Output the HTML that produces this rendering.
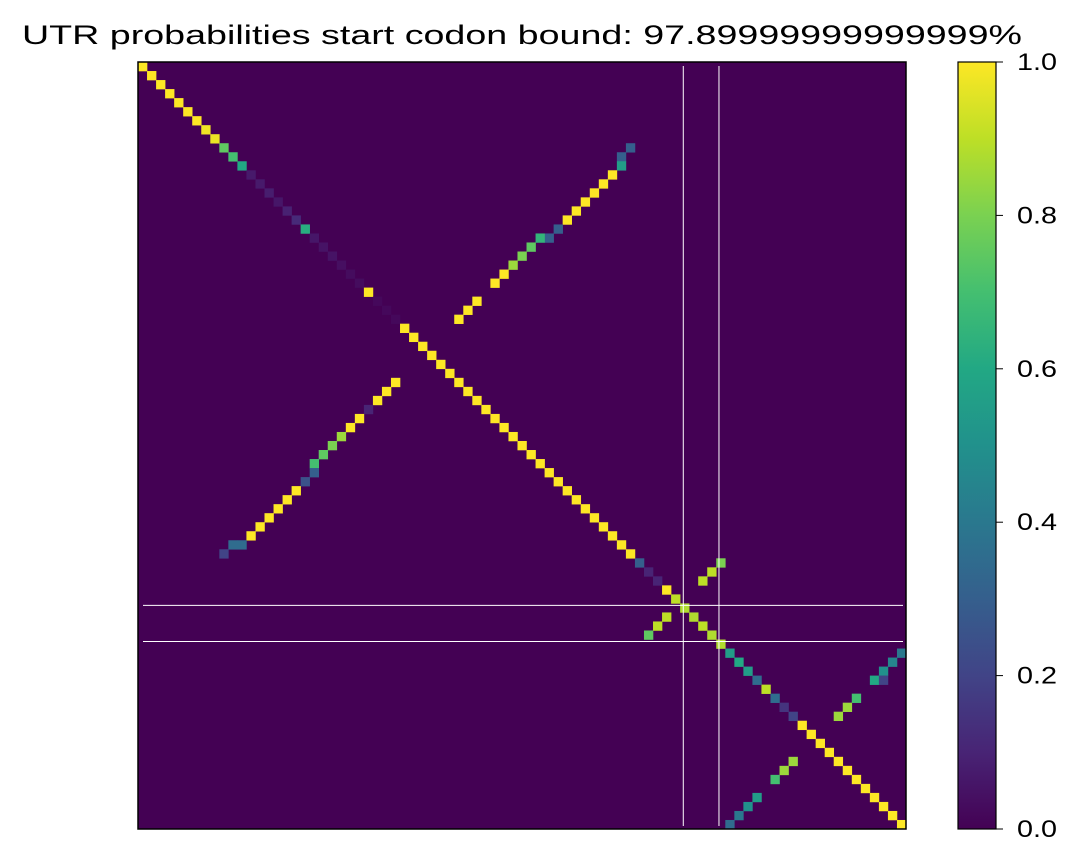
<!DOCTYPE html>
<html><head><meta charset="utf-8"><style>
body{margin:0;background:#fff;}
svg{display:block;font-family:"Liberation Sans",sans-serif;}
</style></head><body>
<svg id="chart" width="1079" height="867">
<text x="522" y="44" font-size="27" textLength="1000" lengthAdjust="spacingAndGlyphs" text-anchor="middle">UTR probabilities start codon bound: 97.89999999999999%</text>
<g id="cells"></g>
<g id="lines"></g>
<rect x="138" y="62" width="768" height="767" fill="none" stroke="#000" stroke-width="1.5"/>
<defs><linearGradient id="vg" x1="0" y1="1" x2="0" y2="0"></linearGradient></defs>
<rect x="958" y="62" width="38" height="767" fill="url(#vg)"/>
<rect x="958" y="62" width="38" height="767" fill="none" stroke="#000" stroke-width="1.2"/>
<g id="cbticks"></g>
</svg>
<script>
const N = 85;
const diagValues = [
 1,1,1,1,1,1,1,0.98,0.97,
 0.75,0.7,0.6,
 0.07,0.07,0.08,0.06,0.09,0.12,
 0.62,
 0.06,0.05,0.05,0.04,0.03,0.03,
 1,
 0.02,0.02,0.02,
 1,1,1,1,1,1,1,1,1,1,1,1,1,1,1,1,1,1,1,1,1,1,1,1,1,1,
 0.3,0.1,0.1,
 1,
 0.9,
 0.88,0.88,0.9,0.88,0.88,
 0.55,0.6,0.55,0.35,0.9,0.35,0.15,0.2,
 1,1,1,1,1,1,1,1,1,1,1,1];
const offRows = [9,10,11,12,13,14,15,16,17,18,19,19,20,21,22,23,24,26,27,28,
 35,36,37,38,39,40,41,42,43,44,45,46,47,48,49,50,51,52,53,53,54,
 55,56,57,61,62,63,
 65,66,67,68,68,70,71,72,77,78,79,81,82,83,84];
const offCols = [54,53,53,52,51,50,49,48,47,46,45,44,43,42,41,40,39,37,36,35,
 28,27,26,25,24,23,22,21,20,19,19,18,17,16,15,14,13,12,11,10,9,
 64,63,62,58,57,56,
 84,83,82,81,82,79,78,77,72,71,70,68,67,66,65];
const offValues = [0.3,0.3,0.55,1,1,1,1,1,1,0.3,0.3,0.65,0.75,0.8,0.85,1,1,1,1,1,
 1,1,1,0.1,1,1,0.85,0.8,0.75,0.7,0.3,0.25,1,1,1,1,1,1,0.35,0.35,0.2,
 0.8,0.9,0.9,0.9,0.9,0.75,
 0.4,0.45,0.5,0.6,0.2,0.7,0.85,0.85,0.85,0.85,0.7,0.55,0.5,0.4,0.35];
const vLinePos = [60.35, 64.3];
const hLinePos = [60.0, 64.0];
const cbTicks = [0.0,0.2,0.4,0.6,0.8,1.0];
const cbLabels = ["0.0","0.2","0.4","0.6","0.8","1.0"];

const X0=138,Y0=62,W=768,H=767;
const xs = c => X0 + c*W/N;
const ys = r => Y0 + r*H/N;
const vir = [[68,1,84],[72,36,117],[65,68,135],[53,95,141],[42,120,142],[33,145,140],[34,168,132],[68,191,112],[122,209,81],[189,223,38],[253,231,37]];
function cmap(v){v=Math.max(0,Math.min(1,v));const t=v*10,i=Math.min(9,Math.floor(t)),f=t-i;
 const a=vir[i],b=vir[i+1];return `rgb(${a.map((x,k)=>Math.round(x+(b[k]-x)*f)).join(',')})`;}
const NS="http://www.w3.org/2000/svg";
const cells=document.getElementById('cells');
const bg=document.createElementNS(NS,'rect');
bg.setAttribute('x',X0);bg.setAttribute('y',Y0);bg.setAttribute('width',W);bg.setAttribute('height',H);bg.setAttribute('fill',cmap(0));


cells.appendChild(bg);
function addCell(row,col,val){
 const r=document.createElementNS(NS,'rect');
 r.setAttribute('x',xs(col));r.setAttribute('y',ys(row));
 r.setAttribute('width',W/N+0.3);r.setAttribute('height',H/N+0.3);
 r.setAttribute('fill',cmap(val));
 
 
 cells.appendChild(r);
}
diagValues.forEach((v,i)=>{ if(v>0.015) addCell(i,i,v); });
for(let i=0;i<offValues.length;i++) addCell(offRows[i],offCols[i],offValues[i]);
const lines=document.getElementById('lines');
vLinePos.forEach(p=>{const l=document.createElementNS(NS,'line');
 l.setAttribute('x1',xs(p));l.setAttribute('x2',xs(p));l.setAttribute('y1',66);l.setAttribute('y2',826);
 l.setAttribute('stroke','#fff');l.setAttribute('stroke-width','1');
 
 
 lines.appendChild(l);});
hLinePos.forEach(p=>{const l=document.createElementNS(NS,'line');
 l.setAttribute('y1',ys(p)+2);l.setAttribute('y2',ys(p)+2);l.setAttribute('x1',143);l.setAttribute('x2',903);
 l.setAttribute('stroke','#fff');l.setAttribute('stroke-width','1');
 
 
 lines.appendChild(l);});
const g=document.getElementById('vg');
vir.forEach((c,i)=>{const s=document.createElementNS(NS,'stop');s.setAttribute('offset',i/10);s.setAttribute('stop-color',`rgb(${c.join(',')})`);g.appendChild(s);});
const cbt=document.getElementById('cbticks');
cbTicks.forEach((v,i)=>{const y=829-v*767;
 const t=document.createElementNS(NS,'line');t.setAttribute('x1',996);t.setAttribute('x2',1003);t.setAttribute('y1',y);t.setAttribute('y2',y);t.setAttribute('stroke','#000');
 
 
 cbt.appendChild(t);
 const tx=document.createElementNS(NS,'text');tx.setAttribute('x',1017);tx.setAttribute('y',y+8);tx.setAttribute('font-size','24');tx.setAttribute('textLength','40');tx.setAttribute('lengthAdjust','spacingAndGlyphs');tx.textContent=cbLabels[i];
 
 
 cbt.appendChild(tx);});
</script>
</body></html>
